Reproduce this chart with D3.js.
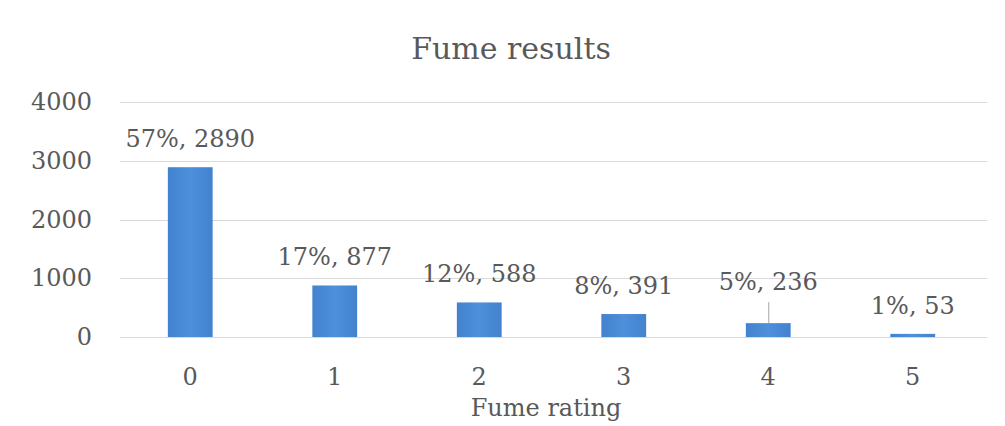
<!DOCTYPE html>
<html>
<head>
<meta charset="utf-8">
<script src="https://cdn.jsdelivr.net/npm/d3@7/dist/d3.min.js"></script>
<style>
  html, body { margin: 0; padding: 0; background: #ffffff; }
  svg { display: block; }
  text { font-family: "DejaVu Serif", "Liberation Serif", serif; fill: #595959; }
</style>
</head>
<body>
<svg id="chart" width="1005" height="426"></svg>
<script>
// Fume rating distribution
const ratings = ["0", "1", "2", "3", "4", "5"];
const counts = [2890, 877, 588, 391, 236, 53];
const shares = ["57%", "17%", "12%", "8%", "5%", "1%"];
const yTicks = [0, 1000, 2000, 3000, 4000];

const svg = d3.select("#chart");

const x = d3.scaleBand()
  .domain(ratings)
  .range([118, 985])
  .paddingInner(0.69)
  .paddingOuter(0.345);

const y = d3.scaleLinear()
  .domain([0, 4000])
  .range([337, 102]);

// bar gradient
const defs = svg.append("defs");
const grad = defs.append("linearGradient").attr("id", "barFill")
  .attr("x1", "0").attr("x2", "1").attr("y1", "0").attr("y2", "0");
grad.append("stop").attr("offset", "0").attr("stop-color", "#4282d0");
grad.append("stop").attr("offset", "0.5").attr("stop-color", "#4e90da");
grad.append("stop").attr("offset", "1").attr("stop-color", "#4282d0");

// title
svg.append("text")
  .attr("x", 511).attr("y", 59)
  .attr("text-anchor", "middle")
  .style("font-size", "30px")
  .text("Fume results");

// gridlines
svg.append("g")
  .selectAll("line")
  .data(yTicks.filter(d => d > 0))
  .join("line")
  .attr("x1", 120).attr("x2", 987)
  .attr("y1", d => Math.round(y(d)) + 0.5)
  .attr("y2", d => Math.round(y(d)) + 0.5)
  .attr("stroke", "#d9d9d9")
  .attr("stroke-width", 1);

// y axis labels
const yAxis = d3.axisLeft(y).tickValues(yTicks).tickFormat(d3.format("d")).tickSize(0).tickPadding(0);
const gy = svg.append("g").attr("transform", "translate(92,0)").call(yAxis);
gy.select(".domain").remove();
gy.selectAll("text")
  .style("font-size", "24px")
  .attr("fill", "#595959")
  .style("font-family", "\"DejaVu Serif\", serif");

// bars
svg.append("g")
  .selectAll("rect")
  .data(ratings)
  .join("rect")
  .attr("x", (d) => x(d))
  .attr("width", x.bandwidth())
  .attr("y", (d, i) => y(counts[i]))
  .attr("height", (d, i) => y(0) - y(counts[i]))
  .attr("fill", "url(#barFill)");

// baseline
svg.append("line")
  .attr("x1", 120).attr("x2", 987)
  .attr("y1", Math.round(y(0)) + 0.5).attr("y2", Math.round(y(0)) + 0.5)
  .attr("stroke", "#d9d9d9");

// x axis labels
const xAxis = d3.axisBottom(x).tickSize(0).tickPadding(0);
const gx = svg.append("g").attr("transform", "translate(0,368)").call(xAxis);
gx.select(".domain").remove();
gx.selectAll("text")
  .style("font-size", "24px")
  .attr("fill", "#595959")
  .style("font-family", "\"DejaVu Serif\", serif");

// axis title
svg.append("text")
  .attr("x", 546).attr("y", 416)
  .attr("text-anchor", "middle")
  .style("font-size", "24px")
  .text("Fume rating");

// data labels; the rating-4 label is lifted with a leader line
const lift = { "4": 13 };
const labels = svg.append("g");
ratings.forEach((r, i) => {
  const cx = x(r) + x.bandwidth() / 2;
  const top = y(counts[i]);
  const up = lift[r] || 0;
  const base = top - 20 - up;
  if (up) {
    labels.append("line")
      .attr("x1", cx + 0.5).attr("x2", cx + 0.5)
      .attr("y1", base + 12).attr("y2", top)
      .attr("stroke", "#a6a6a6");
  }
  labels.append("text")
    .attr("x", cx).attr("y", base)
    .attr("text-anchor", "middle")
    .style("font-size", "24px")
    .text(shares[i] + ", " + counts[i]);
});
</script>
</body>
</html>
